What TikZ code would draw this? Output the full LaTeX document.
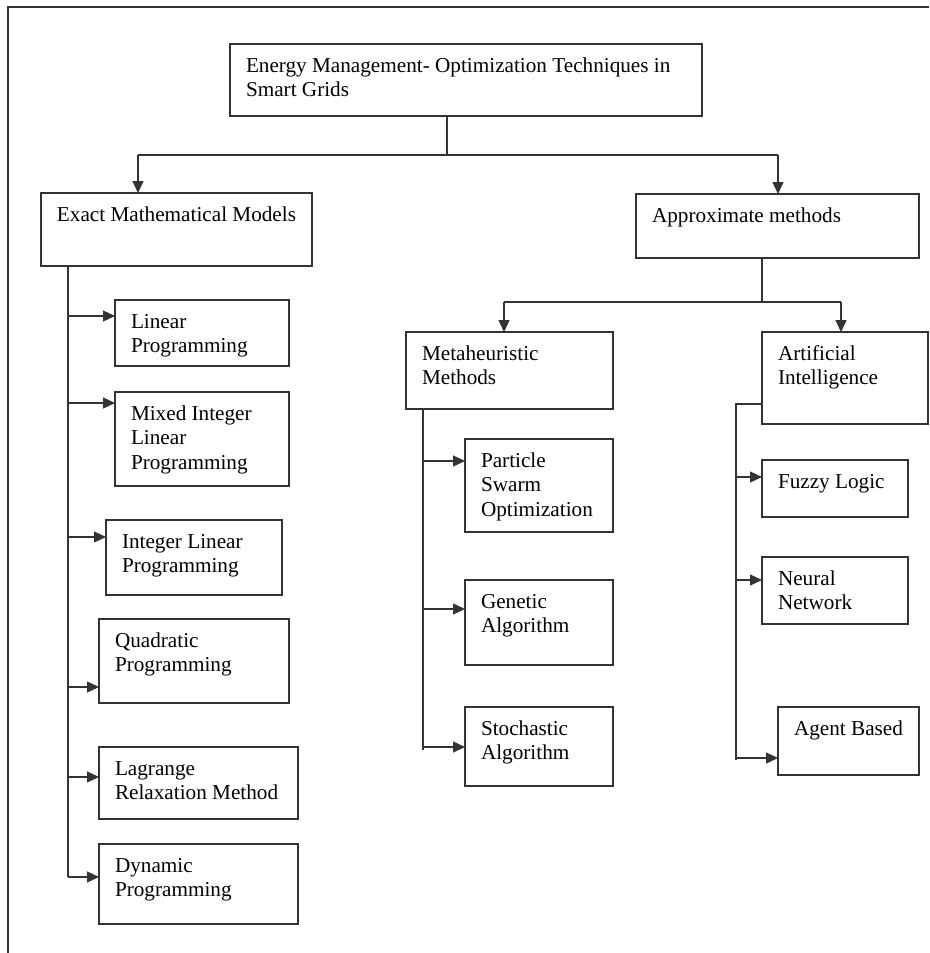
\documentclass[tikz,border=0pt]{standalone}
\usepackage{fontspec}
\setmainfont{Liberation Serif}
\usetikzlibrary{arrows.meta}
\definecolor{ln}{HTML}{333333}
\newcommand{\bt}[3]{\parbox[t][#2][t]{#1}{\raggedright\leftskip=16pt\relax\vspace*{11pt}\strut #3}}
\tikzset{
  box/.style={draw=ln, line width=1.3pt, inner sep=0pt, outer sep=0pt, anchor=north west,
    font=\fontsize{21.2pt}{24.5pt}\selectfont},
  conn/.style={draw=ln, line width=1.3pt},
  arr/.style={conn, -{Triangle[length=12pt,width=11pt]}},
  frame/.style={draw=ln, line width=1.3pt}
}
\begin{document}
\begin{tikzpicture}[x=1pt,y=-1pt]
\useasboundingbox (0,0) rectangle (929,953);
\draw[frame] (929,7) -- (8,7) -- (8,953);

\node[box] (top) at (230,44) {\bt{472pt}{72pt}{Energy Management- Optimization Techniques in\\ Smart Grids}};
\node[box] (exact) at (41,193) {\bt{271pt}{73pt}{Exact Mathematical Models}};
\node[box] (approx) at (636,194) {\bt{283pt}{64pt}{Approximate methods}};

\node[box] (lp) at (115,300) {\bt{174pt}{66pt}{Linear\\ Programming}};
\node[box] (milp) at (115,392) {\bt{174pt}{94pt}{Mixed Integer\\ Linear\\ Programming}};
\node[box] (ilp) at (106,520) {\bt{176pt}{75pt}{Integer Linear\\ Programming}};
\node[box] (qp) at (99,619) {\bt{190pt}{84pt}{Quadratic\\ Programming}};
\node[box] (lr) at (99,747) {\bt{199pt}{72pt}{Lagrange\\ Relaxation Method}};
\node[box] (dp) at (99,844) {\bt{199pt}{80pt}{Dynamic\\ Programming}};

\node[box] (meta) at (406,332) {\bt{207pt}{77pt}{Metaheuristic\\ Methods}};
\node[box] (pso) at (465,439) {\bt{148pt}{93pt}{Particle\\ Swarm\\ Optimization}};
\node[box] (ga) at (465,580) {\bt{148pt}{85pt}{Genetic\\ Algorithm}};
\node[box] (sa) at (465,707) {\bt{148pt}{79pt}{Stochastic\\ Algorithm}};

\node[box] (ai) at (762,332) {\bt{166pt}{92pt}{Artificial\\ Intelligence}};
\node[box] (fl) at (762,460) {\bt{146pt}{57pt}{Fuzzy Logic}};
\node[box] (nn) at (762,557) {\bt{146pt}{67pt}{Neural\\ Network}};
\node[box] (ab) at (778,707) {\bt{141pt}{68pt}{Agent Based}};

% top level
\coordinate (tj) at (447,155);
\coordinate (tl) at (138,155);
\coordinate (tr) at (778,155);
\draw[conn] (top.south -| tj) -- (tj);
\draw[conn] (tl) -- (tr);
\draw[arr] (tl) -- (tl |- exact.north);
\draw[arr] (tr) -- (tr |- approx.north);

% approximate split
\coordinate (aj) at (762,302);
\coordinate (ml) at (504,302);
\coordinate (mr) at (841,302);
\draw[conn] (approx.south -| aj) -- (aj);
\draw[conn] (ml) -- (mr);
\draw[arr] (ml) -- (ml |- meta.north);
\draw[arr] (mr) -- (mr |- ai.north);

% exact trunk
\coordinate (e1) at (68,316);
\coordinate (e2) at (68,403);
\coordinate (e3) at (68,537);
\coordinate (e4) at (68,687);
\coordinate (e5) at (68,777);
\coordinate (e6) at (68,877);
\draw[conn] (exact.south -| e6) -- (e6);
\draw[arr] (e1) -- (e1 -| lp.west);
\draw[arr] (e2) -- (e2 -| milp.west);
\draw[arr] (e3) -- (e3 -| ilp.west);
\draw[arr] (e4) -- (e4 -| qp.west);
\draw[arr] (e5) -- (e5 -| lr.west);
\draw[arr] (e6) -- (e6 -| dp.west);

% metaheuristic trunk
\coordinate (m1) at (423,461);
\coordinate (m2) at (423,609);
\coordinate (m3) at (423,747);
\coordinate (mb) at (423,750);
\draw[conn] (meta.south -| mb) -- (mb);
\draw[arr] (m1) -- (m1 -| pso.west);
\draw[arr] (m2) -- (m2 -| ga.west);
\draw[arr] (m3) -- (m3 -| sa.west);

% AI trunk
\coordinate (at) at (736,404);
\coordinate (a1) at (736,477);
\coordinate (a2) at (736,580);
\coordinate (a3) at (736,758);
\coordinate (ab0) at (736,760);
\draw[conn] (at -| ai.west) -- (at) -- (ab0);
\draw[arr] (a1) -- (a1 -| fl.west);
\draw[arr] (a2) -- (a2 -| nn.west);
\draw[arr] (a3) -- (a3 -| ab.west);
\end{tikzpicture}
\end{document}
